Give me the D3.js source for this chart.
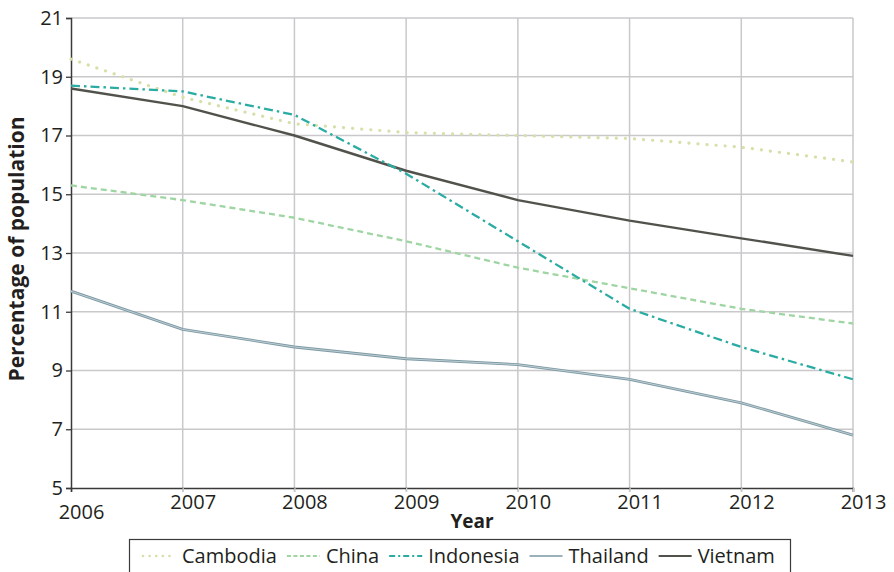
<!DOCTYPE html>
<html>
<head>
<meta charset="utf-8">
<script src="https://cdn.jsdelivr.net/npm/d3@7"></script>
<style>
  html, body { margin: 0; padding: 0; background: #fff; }
  svg { display: block; }
  text { font-family: "Open Sans", "Noto Sans", sans-serif; fill: #231f20; }
</style>
</head>
<body>
<svg id="chart" width="894" height="572"></svg>
<script>
const years = [2006, 2007, 2008, 2009, 2010, 2011, 2012, 2013];
const yTicks = [5, 7, 9, 11, 13, 15, 17, 19, 21];
const seriesNames = ["Cambodia", "China", "Indonesia", "Thailand", "Vietnam"];
const cambodia  = [19.6, 18.3, 17.4, 17.1, 17.0, 16.9, 16.6, 16.1];
const china     = [15.3, 14.8, 14.2, 13.4, 12.5, 11.8, 11.1, 10.6];
const indonesia = [18.7, 18.5, 17.7, 15.7, 13.4, 11.1, 9.8, 8.7];
const thailand  = [11.7, 10.4, 9.8, 9.4, 9.2, 8.7, 7.9, 6.8];
const vietnam   = [18.6, 18.0, 17.0, 15.8, 14.8, 14.1, 13.5, 12.9];
const seriesValues = [cambodia, china, indonesia, thailand, vietnam];

const styles = {
  Cambodia:  { color: "#d6e0a9", width: 3.2, dash: "0.1 9", cap: "round" },
  China:     { color: "#9fd5a2", width: 2.3, dash: "6 4", cap: "butt" },
  Indonesia: { color: "#2aaca3", width: 2.3, dash: "9 4 2.5 4", cap: "butt" },
  Thailand:  { color: "#7e9aa4", width: 2.8, dash: null, cap: "butt" },
  Vietnam:   { color: "#52524d", width: 2.4, dash: null, cap: "butt" }
};

const svg = d3.select("#chart");
const margin = { left: 71, right: 41, top: 18, bottom: 84 };
const W = 894, H = 572;
const x = d3.scaleLinear().domain([2006, 2013]).range([margin.left, W - margin.right]);
const y = d3.scaleLinear().domain([5, 21]).range([H - margin.bottom, margin.top]);

// gridlines
const grid = svg.append("g");
grid.selectAll("line.h").data(yTicks.filter(d => d > 5)).enter().append("line")
  .attr("x1", x(2006)).attr("x2", x(2013))
  .attr("y1", d => y(d)).attr("y2", d => y(d))
  .attr("stroke", "#c9c9cb").attr("stroke-width", 1.5);
grid.selectAll("line.v").data(years.slice(1)).enter().append("line")
  .attr("x1", d => x(d)).attr("x2", d => x(d))
  .attr("y1", y(21)).attr("y2", y(5) + 4)
  .attr("stroke", "#c9c9cb").attr("stroke-width", 1.5);

// y axis
const yAxis = d3.axisLeft(y).tickValues(yTicks).tickSize(5).tickPadding(3).tickFormat(d3.format("d"));
const gy = svg.append("g").attr("transform", `translate(${x(2006)},0)`).call(yAxis);
gy.select(".domain").attr("stroke", "#3a3a3a").attr("stroke-width", 1.5);
gy.selectAll(".tick line").attr("stroke", "#3a3a3a").attr("stroke-width", 1.3);
gy.selectAll(".tick text").attr("font-size", 20).attr("fill", "#231f20")
  .attr("font-family", "Open Sans, Noto Sans, sans-serif");

// x axis
const xAxis = d3.axisBottom(x).tickValues(years).tickSize(4).tickPadding(3).tickFormat(d3.format("d"));
const gx = svg.append("g").attr("transform", `translate(0,${y(5)})`).call(xAxis);
gx.select(".domain").attr("stroke", "#3a3a3a").attr("stroke-width", 1.5);
gx.selectAll(".tick line").attr("stroke", (d) => d === 2006 ? "#3a3a3a" : "#c9c9cb").attr("stroke-width", 1.3);
gx.selectAll(".tick text").attr("font-size", 20).attr("fill", "#231f20")
  .attr("font-family", "Open Sans, Noto Sans, sans-serif")
  .attr("dx", 10)
  .attr("dy", d => d === 2006 ? "1.2em" : "0.71em");

// axis titles
svg.append("text")
  .attr("transform", `translate(24,${(y(5) + y(21)) / 2 - 4}) rotate(-90)`)
  .attr("text-anchor", "middle")
  .attr("font-size", 21).attr("font-weight", "bold")
  .text("Percentage of population");
svg.append("text")
  .attr("x", (x(2006) + x(2013)) / 2 + 10).attr("y", 528)
  .attr("text-anchor", "middle")
  .attr("font-size", 19).attr("font-weight", "bold")
  .text("Year");

// lines
const line = d3.line()
  .x((d, i) => x(years[i]))
  .y(d => y(d));

const order = ["Cambodia", "China", "Thailand", "Vietnam", "Indonesia"];
order.forEach(name => {
  const vals = seriesValues[seriesNames.indexOf(name)];
  const s = styles[name];
  const p = svg.append("path").datum(vals)
    .attr("d", line)
    .attr("fill", "none")
    .attr("stroke", s.color)
    .attr("stroke-width", s.width)
    .attr("stroke-linecap", s.cap)
    .attr("stroke-linejoin", "round");
  if (s.dash) p.attr("stroke-dasharray", s.dash);
  if (name === "Thailand") {
    svg.append("path").datum(vals)
      .attr("d", line).attr("fill", "none")
      .attr("stroke", "#c4d3d8").attr("stroke-width", 0.9);
  }
});

// legend
const lg = svg.append("g");
lg.append("rect")
  .attr("x", 129.5).attr("y", 539.5).attr("width", 661).attr("height", 40)
  .attr("fill", "#fff").attr("stroke", "#3a3a3a").attr("stroke-width", 1.2);
let cx = 143;
const ly = 556;
seriesNames.forEach(name => {
  const s = styles[name];
  const l = lg.append("line")
    .attr("x1", cx).attr("x2", cx + 33)
    .attr("y1", ly).attr("y2", ly)
    .attr("stroke", name === "Thailand" ? "#9bb1b9" : s.color)
    .attr("stroke-width", name === "Cambodia" ? 2.6 : 2)
    .attr("stroke-linecap", s.cap);
  if (name === "Cambodia") l.attr("stroke-dasharray", "0.1 6.5");
  else if (name === "China") l.attr("stroke-dasharray", "4 2.5");
  else if (name === "Indonesia") l.attr("stroke-dasharray", "6 3 2 3");
  const t = lg.append("text")
    .attr("x", cx + 39).attr("y", ly)
    .attr("dy", "0.35em")
    .attr("font-size", 20)
    .text(name);
  const w = t.node().getComputedTextLength();
  cx = cx + 39 + w + 10;
});
</script>
</body>
</html>
